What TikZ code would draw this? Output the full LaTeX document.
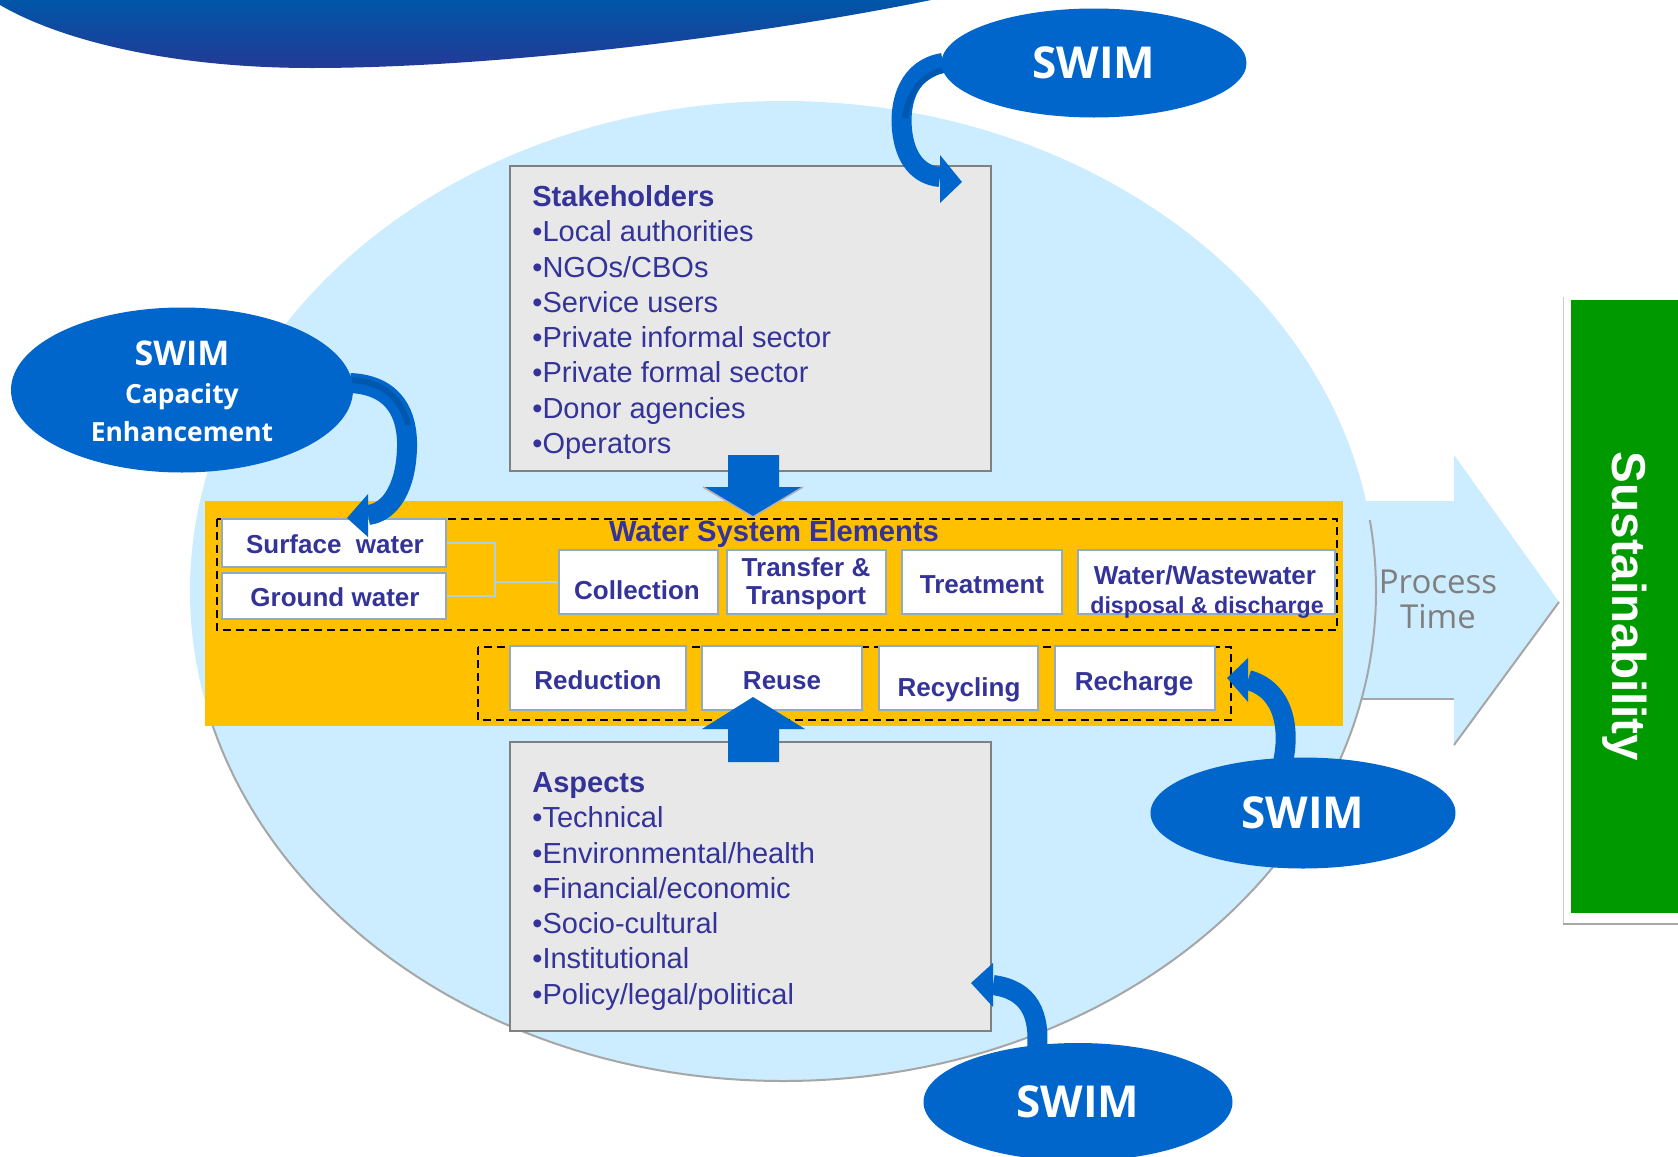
\documentclass[tikz,border=0pt]{standalone}
\usepackage{fontspec}
\setmainfont{Liberation Sans}
\newfontfamily\osans{Open Sans}
\usetikzlibrary{shapes.geometric}
\definecolor{txtblue}{HTML}{333399}
\definecolor{swimblue}{HTML}{0066CC}
\definecolor{swimdark}{HTML}{0057AE}
\definecolor{lightblue}{HTML}{CCECFF}
\definecolor{bandorange}{HTML}{FFC000}
\definecolor{boxgray}{HTML}{E8E8E8}
\definecolor{boxedge}{HTML}{808080}
\definecolor{wbedge}{HTML}{8FAAC4}
\definecolor{connector}{HTML}{B0D0E0}
\definecolor{sgreen}{HTML}{009900}
\definecolor{swtop}{HTML}{0056A8}
\definecolor{swbot}{HTML}{233A96}
\definecolor{ptgray}{HTML}{7F7F7F}
\begin{document}
\begin{tikzpicture}[x=0.5pt,y=-0.5pt,
  wbox/.style={draw=wbedge, line width=1pt, fill=white, inner sep=0pt},
  gbox/.style={draw=boxedge, line width=1.25pt, fill=boxgray, inner sep=0pt},
  wtxt/.style={text=txtblue, font=\fontsize{13}{15}\selectfont\bfseries, inner sep=0pt, anchor=base},
  stxt/.style={text=txtblue, font=\fontsize{11.6}{13}\selectfont\bfseries, inner sep=0pt, anchor=base},
  ltxt/.style={text=txtblue, font=\fontsize{14.5}{17}\selectfont, inner sep=0pt, anchor=base west},
  htxt/.style={text=txtblue, font=\fontsize{14.5}{17}\selectfont\bfseries, inner sep=0pt, anchor=base west},
  swim/.style={ellipse, fill=swimblue, inner sep=0pt, text=white, font=\osans\fontsize{22}{24}\selectfont\bfseries},
  swimt/.style={text=white, inner sep=0pt, anchor=base},
  cbody/.style={draw=swimblue, line width=10pt},
  chead/.style={fill=swimblue},
  dashbox/.style={draw=black, line width=1pt, dash pattern=on 4pt off 2.5pt},
  conn/.style={draw=connector, line width=1pt},
  blockarrow/.style={fill=swimblue}
]
\clip (0,0) rectangle (1678,1157);
\fill[white] (0,0) rectangle (1678,1157);

% top swoosh
\shade[top color=swtop, bottom color=swbot] (0,0) -- (0,5) .. controls (60,40) and (170,68) .. (312,68) .. controls (500,68) and (760,35) .. (931,0) -- cycle;

% process arrow
\fill[lightblue] (1300,501) -- (1454,501) -- (1454,455) -- (1559,602) -- (1454,745) -- (1454,699) -- (1300,699) -- cycle;
\draw[gray!70, line width=1pt] (1362,699) -- (1454,699);
\draw[gray!70, line width=1pt] (1454,745) -- (1559,602);
\node[text=ptgray, font=\osans\fontsize{16.5}{18}\selectfont, inner sep=0pt, anchor=base] (proc) at (1438,593.5) {Process};
\node[text=ptgray, font=\osans\fontsize{16.5}{18}\selectfont, inner sep=0pt, anchor=base] (ptime) at (1438,628.5) {Time};

% big ellipse
\fill[lightblue] (783,591) ellipse [x radius=593, y radius=490];
\begin{scope}
\clip (783,726) rectangle (0,1157) (783,520) rectangle (1678,1157);
\draw[gray!70, line width=1pt] (783,591) ellipse [x radius=593, y radius=490];
\end{scope}

% sustainability
\fill[white] (1563,297) rectangle (1678,923);
\draw[gray!40, line width=0.5pt] (1563,297) -- (1563,923);
\draw[gray!70, line width=1pt] (1563,924) -- (1678,924);
\node[fill=sgreen, rotate=-90, minimum width=306.5pt, minimum height=53.5pt, inner sep=0pt, text=white, font=\fontsize{23.8}{26}\selectfont\bfseries] (sus) at (1624.5,606.5) {Sustainability};

% orange band
\fill[bandorange] (205,501) rectangle (1343,726);
\draw[dashbox] (217,519) rectangle (1337,630);
\draw[dashbox] (478,647) rectangle (1231,720);

% white boxes
\node[wbox, minimum width=112pt, minimum height=24pt] (sw) at (334,543) {};
\node[wbox, minimum width=112pt, minimum height=23pt] (gw) at (334,596) {};
\node[wbox, minimum width=79.5pt, minimum height=32pt] (col) at (638.5,582) {};
\node[wbox, minimum width=79.5pt, minimum height=32pt] (tt) at (806.5,582) {};
\node[wbox, minimum width=80pt, minimum height=32pt] (tr) at (982,582) {};
\node[wbox, minimum width=128.5pt, minimum height=32pt] (wd) at (1206.5,582) {};
\node[wbox, minimum width=88pt, minimum height=32pt] (red) at (598,678) {};
\node[wbox, minimum width=80pt, minimum height=32pt] (reu) at (782,678) {};
\node[wbox, minimum width=79.5pt, minimum height=32pt] (rcy) at (958.5,678) {};
\node[wbox, minimum width=80pt, minimum height=32pt] (rch) at (1135,678) {};

\coordinate (j) at (495,582);
\draw[conn] (sw.east) -| (j);
\draw[conn] (gw.east) -| (j);
\draw[conn] (j) -- (col.west);

\node[wtxt, font=\fontsize{14.6}{17}\selectfont\bfseries] (wse) at (774,541) {Water System Elements};
\node[wtxt] (swt) at (335,553) {Surface\ \ water};
\node[wtxt] (gwt) at (335,606) {Ground water};
\node[wtxt] (colt) at (637,599) {Collection};
\node[wtxt] (tt1) at (806,576) {Transfer \&};
\node[wtxt] (tt2) at (806,604) {Transport};
\node[wtxt] (trt) at (982,593) {Treatment};
\node[wtxt] (wd1) at (1205,584) {Water/Wastewater};
\node[stxt] (wd2) at (1207,613) {disposal \& discharge};
\node[wtxt] (redt) at (598,689) {Reduction};
\node[wtxt] (reut) at (782,689) {Reuse};
\node[wtxt] (rcyt) at (959,696) {Recycling};
\node[wtxt] (rcht) at (1134,690) {Recharge};

% grey boxes
\node[gbox, minimum width=240.5pt, minimum height=152.5pt] (stake) at (750.5,318.5) {};
\node[gbox, minimum width=240.5pt, minimum height=144.5pt] (asp) at (750.5,886.5) {};

\node[htxt] (s0) at (532,206.4) {Stakeholders};
\node[ltxt] (s1) at (532,241.7) {•Local authorities};
\node[ltxt] (s2) at (532,277.0) {•NGOs/CBOs};
\node[ltxt] (s3) at (532,312.3) {•Service users};
\node[ltxt] (s4) at (532,347.6) {•Private informal sector};
\node[ltxt] (s5) at (532,382.9) {•Private formal sector};
\node[ltxt] (s6) at (532,418.2) {•Donor agencies};
\node[ltxt] (s7) at (532,453.5) {•Operators};

\node[htxt] (a0) at (532,792.4) {Aspects};
\node[ltxt] (a1) at (532,827.7) {•Technical};
\node[ltxt] (a2) at (532,863.0) {•Environmental/health};
\node[ltxt] (a3) at (532,898.3) {•Financial/economic};
\node[ltxt] (a4) at (532,933.6) {•Socio-cultural};
\node[ltxt] (a5) at (532,968.9) {•Institutional};
\node[ltxt] (a6) at (532,1004.2) {•Policy/legal/political};

% block arrows
\fill[blockarrow] (728,455) -- (779,455) -- (779,487) -- (803,487) -- (753,517) -- (703,487) -- (728,487) -- cycle;
\draw[gray!60, line width=0.8pt] (803,487) -- (753,517) -- (703,487);
\fill[blockarrow] (753,697) -- (805,729) -- (779,729) -- (779,762) -- (728,762) -- (728,729) -- (702,729) -- cycle;

% curved arrows
\coordinate (c1s) at (943,63);
\coordinate (c1e) at (940,177);
\draw[cbody] (c1s) .. controls (910,68) and (899,100) .. (902,130) .. controls (905,158) and (918,175) .. (c1e);
\draw[swimdark, line width=3pt] (943,70) .. controls (920,76) and (908,95) .. (905,118);
\fill[chead] (940,155) -- (962,182) -- (940,203) -- cycle;

\coordinate (c2s) at (350,383);
\coordinate (c2e) at (368,515);
\draw[cbody] (c2s) .. controls (395,385) and (408,415) .. (407,448) .. controls (406,485) and (392,512) .. (c2e);
\draw[swimdark, line width=3pt] (352,380) .. controls (385,382) and (402,400) .. (408,425);
\fill[chead] (368,494) -- (347,518) -- (368,537) -- cycle;

\coordinate (c3s) at (1283,762);
\coordinate (c3e) at (1248,680);
\draw[cbody] (c3s) .. controls (1290,730) and (1285,690) .. (c3e);
\fill[chead] (1248,658) -- (1227,678) -- (1248,702) -- cycle;

\coordinate (c4s) at (1037,1050);
\coordinate (c4e) at (993,985);
\draw[cbody] (c4s) .. controls (1040,1015) and (1030,990) .. (c4e);
\fill[chead] (993,963) -- (971,983) -- (993,1007) -- cycle;

% SWIM ellipses
\node[swim, minimum width=152.5pt, minimum height=54.5pt] (swimA) at (1094,63) {SWIM};
\node[swim, minimum width=171pt, minimum height=82.5pt] (swimB) at (182,390) {};
\node[swimt, font=\osans\fontsize{17}{19}\selectfont\bfseries] (swimB1) at (182,365) {SWIM};
\node[swimt, font=\osans\fontsize{13.2}{15}\selectfont\bfseries] (swimB2) at (182,403.5) {Capacity};
\node[swimt, font=\osans\fontsize{13.2}{15}\selectfont\bfseries] (swimB3) at (182,441.5) {Enhancement};
\node[swim, minimum width=152.5pt, minimum height=55.5pt] (swimC) at (1303,813) {SWIM};
\node[swim, minimum width=154.5pt, minimum height=59pt] (swimD) at (1078,1102) {SWIM};
\end{tikzpicture}
\end{document}
